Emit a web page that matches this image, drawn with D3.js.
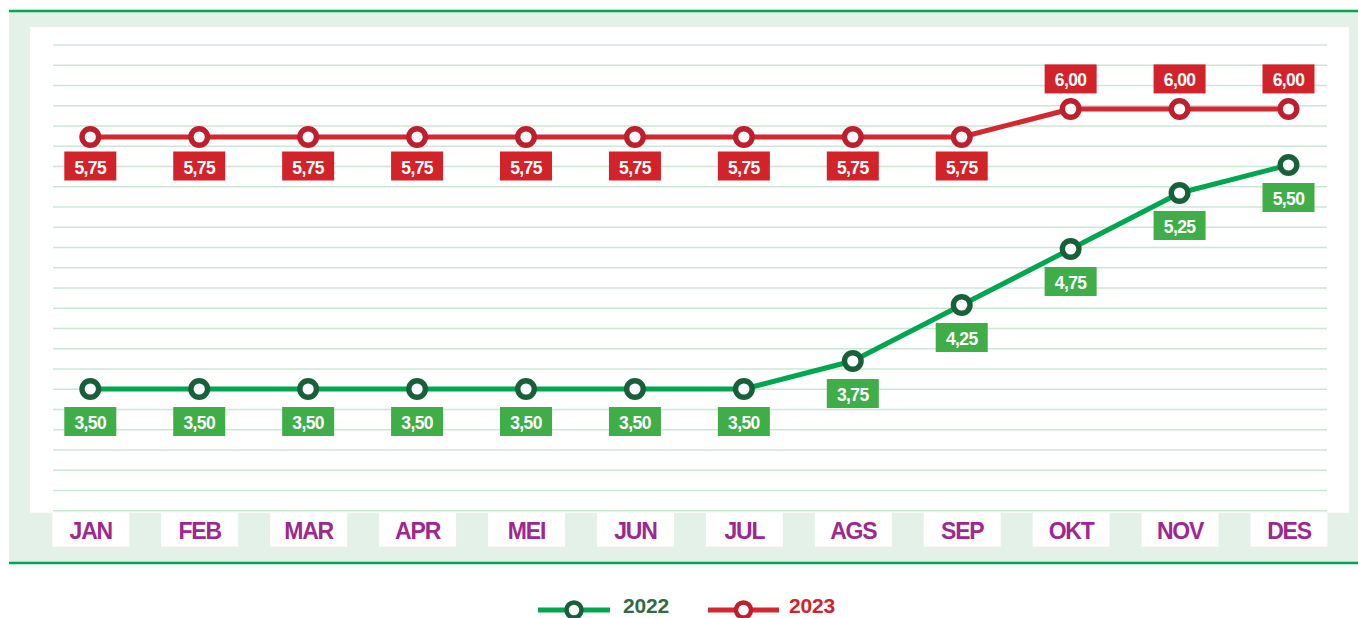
<!DOCTYPE html>
<html>
<head>
<meta charset="utf-8">
<script src="https://cdn.jsdelivr.net/npm/d3@7/dist/d3.min.js"></script>
<style>
  html, body { margin: 0; padding: 0; background: #ffffff; }
  svg { display: block; font-family: "Liberation Sans", Arial, sans-serif; }
</style>
</head>
<body>
<svg id="chart" width="1358" height="618"></svg>
<script>
// Monthly rates, two years
const months = ["JAN", "FEB", "MAR", "APR", "MEI", "JUN", "JUL", "AGS", "SEP", "OKT", "NOV", "DES"];
const rate2022 = [3.50, 3.50, 3.50, 3.50, 3.50, 3.50, 3.50, 3.75, 4.25, 4.75, 5.25, 5.50];
const rate2023 = [5.75, 5.75, 5.75, 5.75, 5.75, 5.75, 5.75, 5.75, 5.75, 6.00, 6.00, 6.00];
const seriesNames = ["2022", "2023"];

const palette = {
  "2022": { line: "#00a650", ring: "#17603a", box: "#3fae49", legendText: "#2f6b44" },
  "2023": { line: "#d3282f", ring: "#be1e2d", box: "#d2232a", legendText: "#d2232a" }
};

const series = [
  { name: seriesNames[0], values: rate2022 },
  { name: seriesNames[1], values: rate2023 }
];

const svg = d3.select("#chart");
const fmt = v => d3.format(".2f")(v).replace(".", ",");

// Frame: pale green panel with green rules top and bottom, white plot area
const panel = { left: 9, right: 1358, top: 10, bottom: 563 };
svg.append("rect")
  .attr("x", panel.left).attr("y", panel.top)
  .attr("width", panel.right - panel.left).attr("height", panel.bottom - panel.top)
  .attr("fill", "#e3f1e8");
svg.append("rect")
  .attr("x", 30).attr("y", 27)
  .attr("width", 1349 - 30).attr("height", 512.7 - 27)
  .attr("fill", "#ffffff");
[panel.top + 1, panel.bottom].forEach(yy => {
  svg.append("line")
    .attr("x1", panel.left).attr("x2", panel.right)
    .attr("y1", yy).attr("y2", yy)
    .attr("stroke", "#00a651").attr("stroke-width", 2.5);
});

// Scales
const x = d3.scalePoint().domain(months).range([90.3, 1288.5]);
const y = d3.scaleLinear().domain([3.5, 6.0]).range([389, 109]);

// Horizontal guide lines
const gridTop = 45, gridBottom = 510.7, gridCount = 24;
const gridY = d3.scaleLinear().domain([0, gridCount - 1]).range([gridTop, gridBottom]);
svg.append("g")
  .selectAll("line")
  .data(d3.range(gridCount))
  .join("line")
  .attr("x1", 53).attr("x2", 1327)
  .attr("y1", d => gridY(d)).attr("y2", d => gridY(d))
  .attr("stroke", "#cbe7d4").attr("stroke-width", 1.6);

// Month labels on white tabs
const tabW = 77, tabTop = 512.7, tabH = 34;
const xAxis = svg.append("g");
xAxis.selectAll("rect")
  .data(months)
  .join("rect")
  .attr("x", d => x(d) - tabW / 2 + 0.5)
  .attr("y", tabTop)
  .attr("width", tabW).attr("height", tabH)
  .attr("fill", "#ffffff");
xAxis.selectAll("text")
  .data(months)
  .join("text")
  .attr("x", d => x(d) + 0.5)
  .attr("y", 538.7)
  .attr("text-anchor", "middle")
  .attr("font-size", 23)
  .attr("font-weight", "bold")
  .attr("letter-spacing", "-1.2px")
  .attr("fill", "#9c2890")
  .text(d => d);

// Lines
const line = d3.line()
  .x((d, i) => x(months[i]))
  .y(d => y(d));

series.forEach(s => {
  const c = palette[s.name];
  const g = svg.append("g");
  g.append("path")
    .datum(s.values)
    .attr("d", line)
    .attr("fill", "none")
    .attr("stroke", c.line)
    .attr("stroke-width", 5)
    .attr("stroke-linejoin", "round");

  g.selectAll("circle")
    .data(s.values)
    .join("circle")
    .attr("cx", (d, i) => x(months[i]))
    .attr("cy", d => y(d))
    .attr("r", 8.3)
    .attr("fill", "#ffffff")
    .attr("stroke", c.ring)
    .attr("stroke-width", 5.4);

  // Value tags: the 2023 plateau at its peak sits above the line, all others below
  const peak = d3.max(s.values);
  const boxW = 52, boxH = 29;
  const tags = g.selectAll("g.tag")
    .data(s.values)
    .join("g")
    .attr("class", "tag")
    .attr("transform", (d, i) => {
      const cx = x(months[i]);
      const cy = y(d);
      const above = s.name === "2023" && d === peak;
      const top = above ? cy - 15.6 - boxH : cy + (s.name === "2023" ? 14.5 : 18);
      return `translate(${cx},${top})`;
    });
  tags.append("rect")
    .attr("x", -boxW / 2).attr("y", 0)
    .attr("width", boxW).attr("height", boxH)
    .attr("fill", c.box);
  tags.append("text")
    .attr("x", 0).attr("y", 22)
    .attr("text-anchor", "middle")
    .attr("font-size", 17.5)
    .attr("font-weight", "bold")
    .attr("letter-spacing", "-0.6px")
    .attr("fill", "#ffffff")
    .text(d => fmt(d));
});

// Legend
const legendItems = [
  { name: seriesNames[0], x0: 538, x1: 610, tx: 623 },
  { name: seriesNames[1], x0: 708, x1: 779, tx: 789 }
];
const legendY = 610;
const legend = svg.append("g");
legendItems.forEach(it => {
  const c = palette[it.name];
  legend.append("line")
    .attr("x1", it.x0).attr("x2", it.x1)
    .attr("y1", legendY).attr("y2", legendY)
    .attr("stroke", c.line).attr("stroke-width", 5);
  legend.append("circle")
    .attr("cx", (it.x0 + it.x1) / 2).attr("cy", legendY)
    .attr("r", 7.5)
    .attr("fill", "#ffffff")
    .attr("stroke", c.ring).attr("stroke-width", 4.5);
  legend.append("text")
    .attr("x", it.tx).attr("y", 613)
    .attr("font-size", 21)
    .attr("font-weight", "bold")
    .attr("letter-spacing", "-0.2px")
    .attr("fill", c.legendText)
    .text(it.name);
});
</script>
</body>
</html>
